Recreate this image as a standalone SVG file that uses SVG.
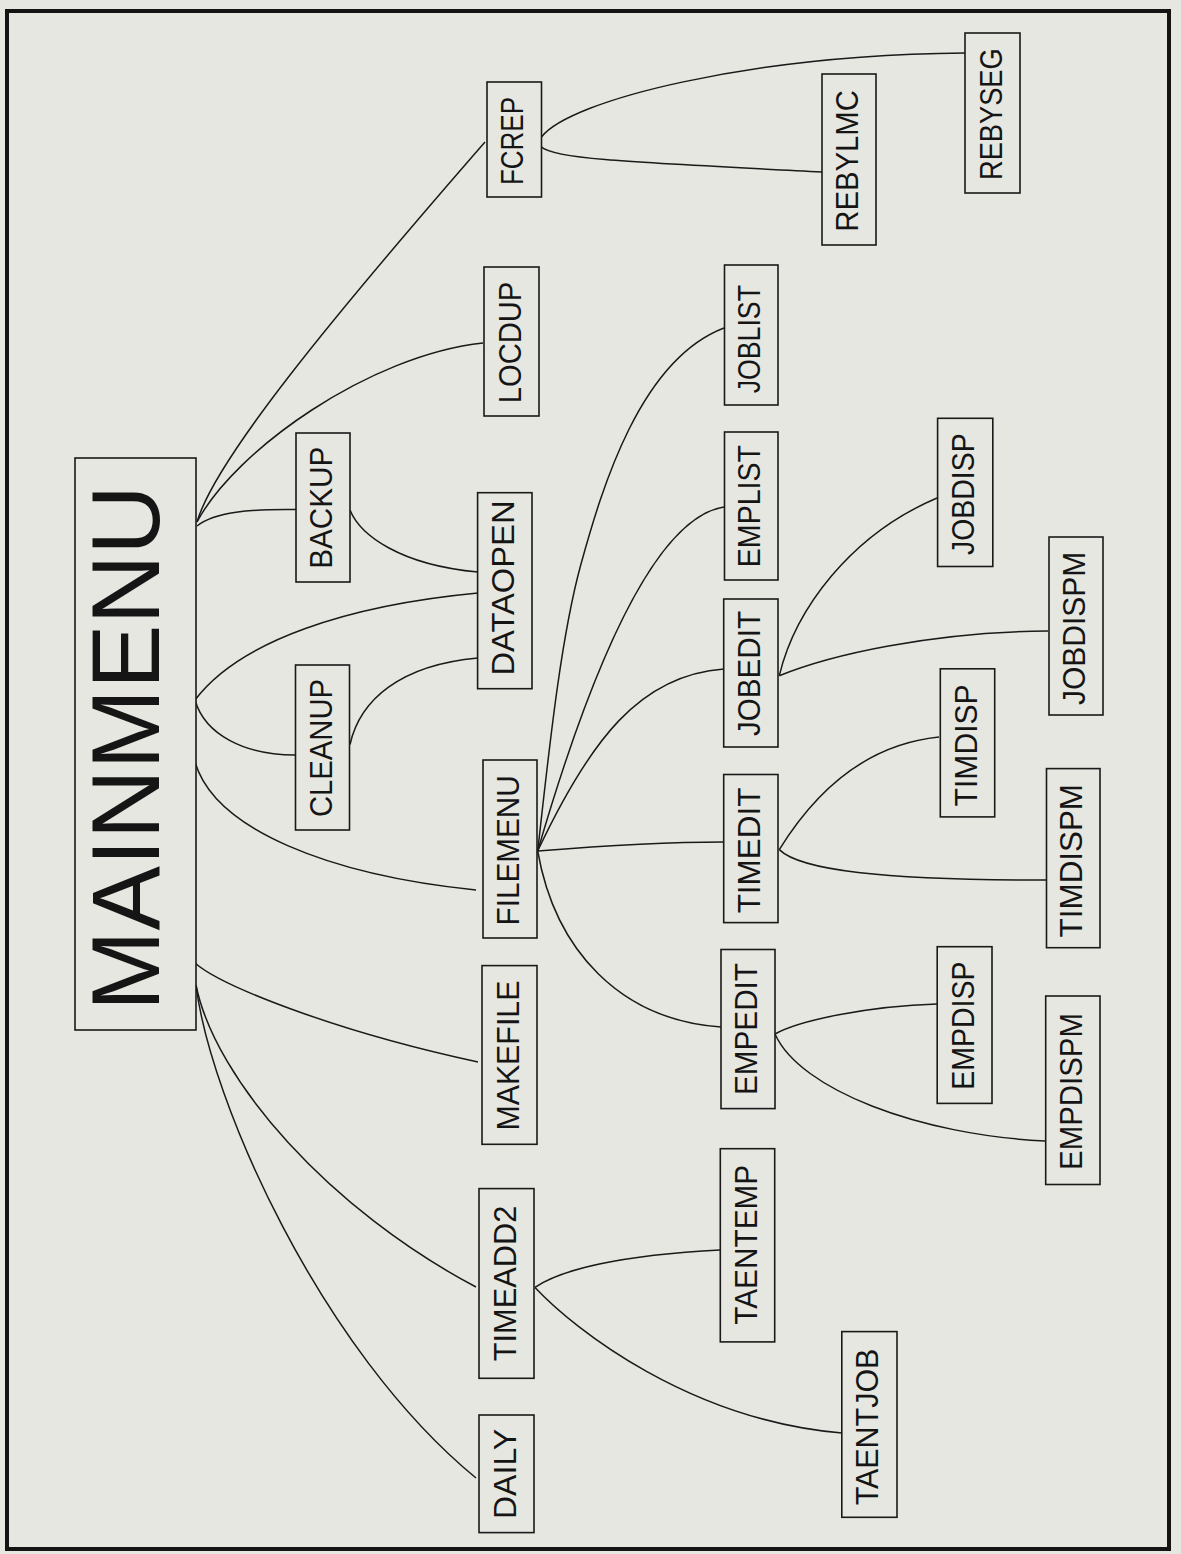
<svg xmlns="http://www.w3.org/2000/svg" width="1181" height="1554" viewBox="0 0 1181 1554">
<style>
.bg{fill:#e7e7e1}
.frame{fill:none;stroke:#141414;stroke-width:4}
.box{fill:#e7e7e1;stroke:#1a1a1a;stroke-width:1.6}
.l{font-family:"Liberation Sans",Arial,sans-serif;font-size:32px;fill:#151515;text-anchor:middle}
.big{font-family:"Liberation Sans",Arial,sans-serif;font-size:96px;fill:#151515;text-anchor:middle}
.e{fill:none;stroke:#1a1a1a;stroke-width:1.5}
</style>
<rect class="bg" x="0" y="0" width="1181" height="1554"/>
<rect class="frame" x="7" y="11" width="1162" height="1538"/>
<g id="connectors">
<path class="e" d="M197,522 C215,460 330,320 485,142"/>
<path class="e" d="M197,522 C235,450 370,355 483,343"/>
<path class="e" d="M197,526 C215,512 250,509 296,509.6"/>
<path class="e" d="M195,700 C240,640 350,605 478,593"/>
<path class="e" d="M195,700 C205,735 245,755 295,755"/>
<path class="e" d="M195,762 C215,830 330,875 476,890"/>
<path class="e" d="M195,963 C220,985 330,1030 478,1062"/>
<path class="e" d="M196,985 C215,1080 330,1210 476,1287"/>
<path class="e" d="M196,985 C210,1100 320,1350 476,1478"/>
<path class="e" d="M350,510 C360,535 400,565 478,572"/>
<path class="e" d="M350,744.5 C360,700 400,665 478,658"/>
<path class="e" d="M541.5,137 C570,100 750,55 965,53"/>
<path class="e" d="M541.5,147 C555,160 650,163 822,172"/>
<path class="e" d="M537.7,851 C548,760 560,640 581,564 S640,360 724,328"/>
<path class="e" d="M537.7,851 C570,740 640,520 724,507"/>
<path class="e" d="M537.7,851 C590,740 640,675 724,669"/>
<path class="e" d="M537.7,851 C600,846 660,842 723,842"/>
<path class="e" d="M537.7,851 C555,950 620,1020 721,1027"/>
<path class="e" d="M779.3,675.7 C795,610 850,535 937,498"/>
<path class="e" d="M779.3,675.7 C830,655 930,632 1048,631"/>
<path class="e" d="M779.3,849.6 C810,800 860,745 939,737"/>
<path class="e" d="M779.3,849.6 C800,870 880,880 1046,880"/>
<path class="e" d="M775,1034 C800,1020 870,1006 937,1004"/>
<path class="e" d="M775,1034 C800,1090 920,1135 1045,1141"/>
<path class="e" d="M535,1287.4 C560,1270 620,1255 720,1250"/>
<path class="e" d="M535,1287.4 C575,1330 690,1420 842,1433"/>
</g>
<g id="MAINMENU"><rect class="box" x="75" y="458" width="121" height="572"/><text class="big" transform="translate(135.5,748) rotate(-90)" y="23.5" textLength="526" lengthAdjust="spacingAndGlyphs">MAINMENU</text></g>
<g id="FCREP"><rect class="box" x="487" y="82" width="54.5" height="115"/><text class="l" transform="translate(514,141) rotate(-90)" y="9" textLength="88" lengthAdjust="spacingAndGlyphs">FCREP</text></g>
<g id="LOCDUP"><rect class="box" x="484" y="267" width="55" height="149"/><text class="l" transform="translate(511.5,342.5) rotate(-90)" y="9" textLength="121.6" lengthAdjust="spacingAndGlyphs">LOCDUP</text></g>
<g id="BACKUP"><rect class="box" x="296" y="433" width="54" height="149"/><text class="l" transform="translate(323,507.8) rotate(-90)" y="9" textLength="122" lengthAdjust="spacingAndGlyphs">BACKUP</text></g>
<g id="CLEANUP"><rect class="box" x="295.5" y="665" width="54" height="165"/><text class="l" transform="translate(322.5,748) rotate(-90)" y="9" textLength="138" lengthAdjust="spacingAndGlyphs">CLEANUP</text></g>
<g id="DATAOPEN"><rect class="box" x="477.6" y="492.7" width="54.4" height="196"/><text class="l" transform="translate(504.8,588) rotate(-90)" y="9" textLength="175" lengthAdjust="spacingAndGlyphs">DATAOPEN</text></g>
<g id="FILEMENU"><rect class="box" x="483" y="760" width="54" height="178"/><text class="l" transform="translate(510,850.4) rotate(-90)" y="9" textLength="150" lengthAdjust="spacingAndGlyphs">FILEMENU</text></g>
<g id="MAKEFILE"><rect class="box" x="482" y="965.6" width="55" height="178.7"/><text class="l" transform="translate(509.5,1055.6) rotate(-90)" y="9" textLength="150" lengthAdjust="spacingAndGlyphs">MAKEFILE</text></g>
<g id="TIMEADD2"><rect class="box" x="479" y="1188.6" width="55" height="189.7"/><text class="l" transform="translate(506.5,1283.5) rotate(-90)" y="9" textLength="155.7" lengthAdjust="spacingAndGlyphs">TIMEADD2</text></g>
<g id="DAILY"><rect class="box" x="479" y="1415" width="55" height="117.6"/><text class="l" transform="translate(506.5,1473.9) rotate(-90)" y="9" textLength="90.3" lengthAdjust="spacingAndGlyphs">DAILY</text></g>
<g id="REBYLMC"><rect class="box" x="822" y="74" width="54" height="171"/><text class="l" transform="translate(849,160.9) rotate(-90)" y="9" textLength="141.7" lengthAdjust="spacingAndGlyphs">REBYLMC</text></g>
<g id="REBYSEG"><rect class="box" x="965" y="33" width="55" height="160"/><text class="l" transform="translate(992.5,114.2) rotate(-90)" y="9" textLength="131.7" lengthAdjust="spacingAndGlyphs">REBYSEG</text></g>
<g id="JOBLIST"><rect class="box" x="724.5" y="265" width="53.5" height="140"/><text class="l" transform="translate(751.25,339.2) rotate(-90)" y="9" textLength="108.3" lengthAdjust="spacingAndGlyphs">JOBLIST</text></g>
<g id="EMPLIST"><rect class="box" x="724.5" y="432" width="53.5" height="148"/><text class="l" transform="translate(751.25,506.1) rotate(-90)" y="9" textLength="122.2" lengthAdjust="spacingAndGlyphs">EMPLIST</text></g>
<g id="JOBEDIT"><rect class="box" x="723.7" y="599" width="54.3" height="148"/><text class="l" transform="translate(750.85,673.5) rotate(-90)" y="9" textLength="125" lengthAdjust="spacingAndGlyphs">JOBEDIT</text></g>
<g id="TIMEDIT"><rect class="box" x="723.7" y="774.5" width="54.3" height="148.1"/><text class="l" transform="translate(750.85,850.5) rotate(-90)" y="9" textLength="125.7" lengthAdjust="spacingAndGlyphs">TIMEDIT</text></g>
<g id="EMPEDIT"><rect class="box" x="721" y="949.5" width="54" height="159.1"/><text class="l" transform="translate(748,1029) rotate(-90)" y="9" textLength="132" lengthAdjust="spacingAndGlyphs">EMPEDIT</text></g>
<g id="TAENTEMP"><rect class="box" x="720.3" y="1148.7" width="54.4" height="193.2"/><text class="l" transform="translate(747.5,1244.8) rotate(-90)" y="9" textLength="160" lengthAdjust="spacingAndGlyphs">TAENTEMP</text></g>
<g id="TAENTJOB"><rect class="box" x="841.8" y="1331.6" width="55.2" height="185.7"/><text class="l" transform="translate(869.4,1427) rotate(-90)" y="9" textLength="156.7" lengthAdjust="spacingAndGlyphs">TAENTJOB</text></g>
<g id="JOBDISP"><rect class="box" x="937.6" y="418.3" width="55.2" height="148.2"/><text class="l" transform="translate(965.2,494.2) rotate(-90)" y="9" textLength="121.7" lengthAdjust="spacingAndGlyphs">JOBDISP</text></g>
<g id="TIMDISP"><rect class="box" x="940.3" y="668.8" width="54.4" height="148.1"/><text class="l" transform="translate(967.5,745.4) rotate(-90)" y="9" textLength="122.2" lengthAdjust="spacingAndGlyphs">TIMDISP</text></g>
<g id="EMPDISP"><rect class="box" x="937.2" y="946.7" width="54.8" height="156.7"/><text class="l" transform="translate(964.6,1025.7) rotate(-90)" y="9" textLength="128.3" lengthAdjust="spacingAndGlyphs">EMPDISP</text></g>
<g id="JOBDISPM"><rect class="box" x="1049" y="537" width="54" height="178"/><text class="l" transform="translate(1076,628.4) rotate(-90)" y="9" textLength="153.3" lengthAdjust="spacingAndGlyphs">JOBDISPM</text></g>
<g id="TIMDISPM"><rect class="box" x="1046.5" y="768.6" width="53.5" height="179.1"/><text class="l" transform="translate(1073.25,860.7) rotate(-90)" y="9" textLength="153.4" lengthAdjust="spacingAndGlyphs">TIMDISPM</text></g>
<g id="EMPDISPM"><rect class="box" x="1045.7" y="996" width="54.3" height="188.5"/><text class="l" transform="translate(1072.85,1091.5) rotate(-90)" y="9" textLength="157" lengthAdjust="spacingAndGlyphs">EMPDISPM</text></g>
</svg>
